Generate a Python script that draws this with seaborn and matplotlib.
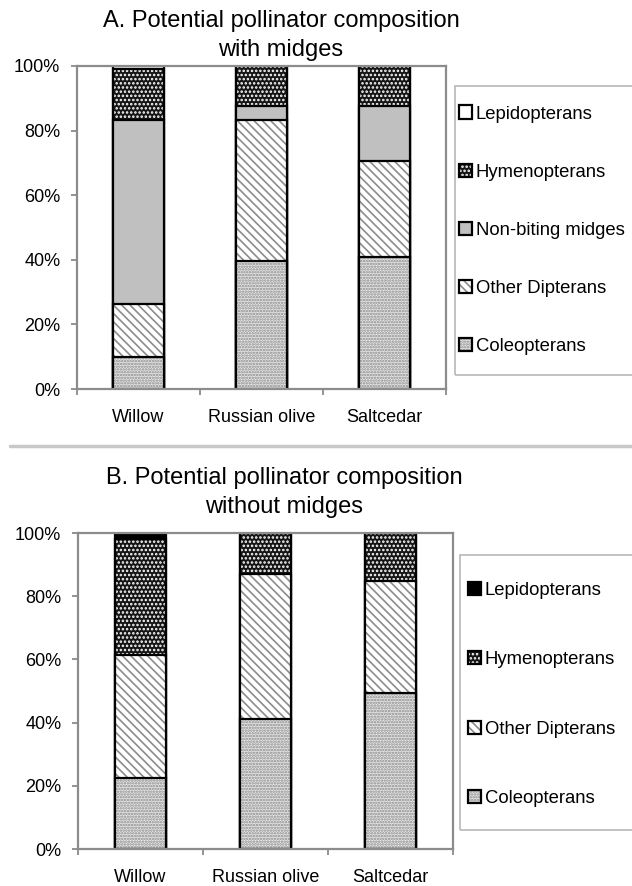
import numpy as np
import matplotlib
matplotlib.use('Agg')
from matplotlib import pyplot as plt
from matplotlib.patches import Patch, Rectangle
from matplotlib.lines import Line2D
from matplotlib.legend_handler import HandlerTuple
import seaborn as sns

sites = ['Willow', 'Russian olive', 'Saltcedar']

# percent of each group, bottom to top
coleop_a = [9.8, 39.5, 40.8]
other_dipt_a = [16.5, 43.9, 29.9]
midges_a = [57.1, 4.3, 16.8]
hymen_a = [15.6, 12.3, 12.5]
lepid_a = [1.0, 0.0, 0.0]

coleop_b = [22.5, 41.2, 49.4]
other_dipt_b = [38.8, 45.9, 35.5]
hymen_b = [36.8, 12.9, 15.1]
lepid_b = [1.9, 0.0, 0.0]

yticks = [0, 20, 40, 60, 80, 100]
ytick_labels = ['0%', '20%', '40%', '60%', '80%', '100%']

sns.set_style('white')
plt.rcParams['font.family'] = ['Liberation Sans', 'DejaVu Sans']
plt.rcParams['hatch.linewidth'] = 1.2
plt.rcParams['text.color'] = 'black'

# (facecolor, hatch, hatch colour)
styles = {
    'Coleopterans': ('#e6e6e6', '......', '#8a8a8a'),
    'Other Dipterans': ('white', '\\\\\\\\', '#8c8c8c'),
    'Non-biting midges': ('#c0c0c0', '', '#c0c0c0'),
    'Hymenopterans': ('#151515', '....', 'white'),
    'Lepidopterans A': ('white', '', 'white'),
    'Lepidopterans B': ('black', '', 'black'),
}


def draw_panel(ax, layers, names):
    cum = np.cumsum(np.array(layers), axis=0)
    for i in reversed(range(len(layers))):
        fc, hatch, hc = styles[names[i]]
        n0 = len(ax.patches)
        sns.barplot(x=sites, y=cum[i], ax=ax, color=fc, width=0.41,
                    errorbar=None, saturation=1)
        for p in ax.patches[n0:]:
            p.set_facecolor(fc)
            p.set_edgecolor(hc)
            p.set_hatch(hatch)
            p.set_linewidth(0)
        n0 = len(ax.patches)
        sns.barplot(x=sites, y=cum[i], ax=ax, color='black', width=0.41,
                    errorbar=None, fill=False)
        for p in ax.patches[n0:]:
            p.set_edgecolor('black')
            p.set_facecolor('none')
            p.set_linewidth(1.6)
    ax.set_ylim(0, 100)
    ax.set_xlim(-0.5, 2.5)
    ax.set_yticks(yticks)
    ax.set_yticklabels(ytick_labels)
    ax.set_xticks([0, 1, 2])
    ax.set_xticklabels(sites)
    ax.set_xticks([-0.5, 0.5, 1.5, 2.5], minor=True)
    ax.tick_params(axis='x', which='major', length=0, pad=14.5, labelsize=13,
                   labelcolor='black')
    ax.tick_params(axis='x', which='minor', length=4, color='#808080',
                   width=1.2, direction='out', bottom=True)
    ax.tick_params(axis='y', length=4, color='#808080', width=1.2,
                   direction='out', left=True, pad=8, labelsize=13,
                   labelcolor='black')
    for s in ax.spines.values():
        s.set_color('#8c8c8c')
        s.set_linewidth(1.6)
    ax.set_xlabel('')
    ax.set_ylabel('')


def legend_handles(names):
    handles = []
    for nm in names:
        fc, hatch, hc = styles[nm]
        h1 = Patch(facecolor=fc, hatch=hatch, edgecolor=hc, linewidth=0)
        h2 = Patch(facecolor='none', edgecolor='black', linewidth=1.6)
        handles.append((h1, h2))
    return handles


W, H = 632, 886
fig = plt.figure(figsize=(6.32, 8.86), dpi=100)
ax_a = fig.add_axes([77 / W, 1 - 389 / H, 369 / W, 323 / H])
ax_b = fig.add_axes([78 / W, 1 - 849 / H, 375 / W, 316 / H])

draw_panel(ax_a, [coleop_a, other_dipt_a, midges_a, hymen_a, lepid_a],
           ['Coleopterans', 'Other Dipterans', 'Non-biting midges',
            'Hymenopterans', 'Lepidopterans A'])
draw_panel(ax_b, [coleop_b, other_dipt_b, hymen_b, lepid_b],
           ['Coleopterans', 'Other Dipterans', 'Hymenopterans',
            'Lepidopterans B'])

fig.text(281 / W, 1 - 21 / H, 'A. Potential pollinator composition',
         ha='center', va='center', fontsize=17)
fig.text(281 / W, 1 - 50 / H, 'with midges',
         ha='center', va='center', fontsize=17)
fig.text(284 / W, 1 - 478 / H, 'B. Potential pollinator composition',
         ha='center', va='center', fontsize=17)
fig.text(284 / W, 1 - 507 / H, 'without midges',
         ha='center', va='center', fontsize=17)

fig.add_artist(Line2D([10 / W, 1], [1 - 446 / H, 1 - 446 / H],
                      color='#c8c8c8', linewidth=2.5))

# legend frames
fig.add_artist(Rectangle((455 / W, 1 - 375 / H), 200 / W, 289 / H,
                         transform=fig.transFigure, facecolor='none',
                         edgecolor='#b8b8b8', linewidth=1.2))
fig.add_artist(Rectangle((460 / W, 1 - 830 / H), 200 / W, 275 / H,
                         transform=fig.transFigure, facecolor='none',
                         edgecolor='#b8b8b8', linewidth=1.2))

names_a = ['Lepidopterans A', 'Hymenopterans', 'Non-biting midges',
           'Other Dipterans', 'Coleopterans']
labels_a = ['Lepidopterans', 'Hymenopterans', 'Non-biting midges',
            'Other Dipterans', 'Coleopterans']
fig.legend(legend_handles(names_a), labels_a,
           loc='upper left', bbox_to_anchor=(459 / W, 1 - 105.5 / H),
           fontsize=13.3, frameon=False, handlelength=0.72, handleheight=0.72,
           handletextpad=0.2, labelspacing=2.22, borderpad=0,
           borderaxespad=0, handler_map={tuple: HandlerTuple(ndivide=1)})

names_b = ['Lepidopterans B', 'Hymenopterans', 'Other Dipterans',
           'Coleopterans']
labels_b = ['Lepidopterans', 'Hymenopterans', 'Other Dipterans',
            'Coleopterans']
fig.legend(legend_handles(names_b), labels_b,
           loc='upper left', bbox_to_anchor=(468 / W, 1 - 581.5 / H),
           fontsize=13.3, frameon=False, handlelength=0.72, handleheight=0.72,
           handletextpad=0.2, labelspacing=2.84, borderpad=0,
           borderaxespad=0, handler_map={tuple: HandlerTuple(ndivide=1)})

fig.savefig('out.png', dpi=100)
